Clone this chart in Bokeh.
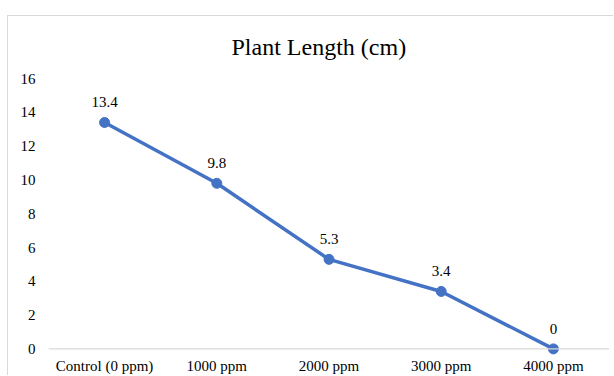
from bokeh.plotting import figure
from bokeh.models import FactorRange, Range1d, ColumnDataSource, LabelSet, Span, FixedTicker
from bokeh.embed import file_html
from bokeh.resources import INLINE

categories = ["Control (0 ppm)", "1000 ppm", "2000 ppm", "3000 ppm", "4000 ppm"]
values = [13.4, 9.8, 5.3, 3.4, 0]
labels = ["13.4", "9.8", "5.3", "3.4", "0"]
y_ticks = [0, 2, 4, 6, 8, 10, 12, 14, 16]

FONT = "Liberation Serif"
BLUE = "#4472C4"

src = ColumnDataSource(dict(x=categories, y=values, lab=labels))

p = figure(
    width=606, height=360,
    x_range=FactorRange(*categories, range_padding=0),
    y_range=Range1d(-0.45, 16.3),
    output_backend="svg", toolbar_location=None,
    min_border_left=40, min_border_right=5, min_border_top=57, min_border_bottom=18,
    margin=(15, 0, 0, 7),
    styles={"border-left": "1px solid #d9d9d9", "border-top": "1px solid #d9d9d9"},
)
p.outline_line_color = None
p.background_fill_color = "white"
p.border_fill_color = "white"

p.title.text = "Plant Length (cm)"
p.title.text_font = FONT
p.title.text_font_size = "24px"
p.title.text_font_style = "normal"
p.title.text_color = "#000000"
p.title.align = "left"
p.title.offset = 183
p.title.standoff = 27

p.xgrid.grid_line_color = None
p.ygrid.grid_line_color = None

p.yaxis.ticker = FixedTicker(ticks=y_ticks)
for ax in (p.xaxis[0], p.yaxis[0]):
    ax.axis_line_color = None
    ax.major_tick_line_color = None
    ax.minor_tick_line_color = None
    ax.major_tick_out = 0
    ax.major_tick_in = 0
    ax.minor_tick_out = 0
    ax.major_label_text_font = FONT
    ax.major_label_text_font_size = "15px"
    ax.major_label_text_color = "#000000"
p.yaxis.major_label_standoff = 13
p.xaxis.major_label_standoff = 1

p.add_layout(Span(location=0, dimension="width", line_color="#d9d9d9", line_width=1.2))

p.line("x", "y", source=src, line_color=BLUE, line_width=3.5)
p.scatter("x", "y", source=src, size=10, fill_color=BLUE, line_color=BLUE)

p.add_layout(LabelSet(x="x", y="y", text="lab", source=src, y_offset=20,
                      text_align="center", text_baseline="middle",
                      text_font=FONT, text_font_size="15px", text_color="#000000"))

open("out.html", "w").write(file_html(p, INLINE))
